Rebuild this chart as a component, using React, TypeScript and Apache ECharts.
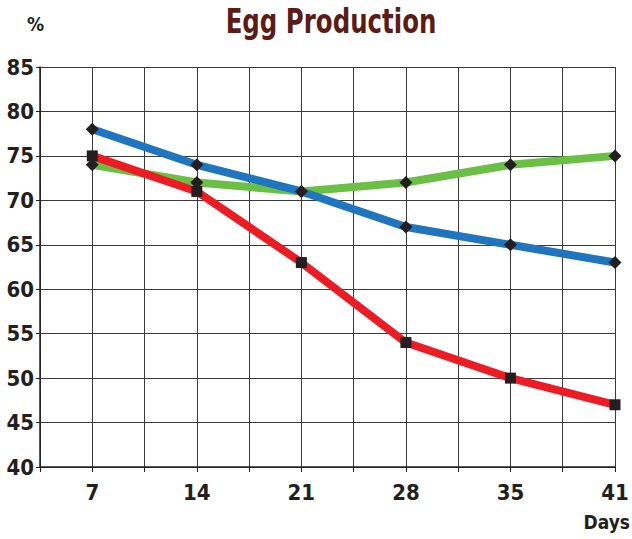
import React, { useEffect, useRef } from "react";
import * as echarts from "echarts";

// Days of the trial; the axis has a half-step slot between each day
const days = ["7", "14", "21", "28", "35", "41"];
const blueValues = [78, 74, 71, 67, 65, 63];
const greenValues = [74, 72, 71, 72, 74, 75];
const redValues = [75, 71, 63, 54, 50, 47];
const yTicks = [40, 45, 50, 55, 60, 65, 70, 75, 80, 85];

const FONT = "'DejaVu Sans Condensed', 'Liberation Sans Narrow', sans-serif";
const INK = "#231f20";

// slot 0 is blank, then blank slots between consecutive days
const slots: string[] = [""];
days.forEach((d, i) => {
  if (i > 0) slots.push("");
  slots.push(d);
});

const toPoints = (vals: number[]) => vals.map((v, i) => [2 * i + 1, v]);

export default function App() {
  const ref = useRef<HTMLDivElement>(null);

  useEffect(() => {
    if (!ref.current) return;
    const chart = echarts.init(ref.current, undefined, { renderer: "svg" });
    const line = (name: string, color: string, vals: number[], symbol: string, size: number, z: number) => ({
      name,
      type: "line",
      data: toPoints(vals),
      z,
      lineStyle: { color, width: 8, cap: "butt", join: "round" },
      itemStyle: { color: INK },
      symbol,
      symbolSize: size,
      showSymbol: true,
    });
    chart.setOption({
      animation: false,
      backgroundColor: "#ffffff",
      textStyle: { fontFamily: FONT },
      grid: { left: 40, right: 17, top: 67, bottom: 72, containLabel: false },
      xAxis: {
        type: "category",
        data: slots,
        boundaryGap: false,
        axisLine: { show: true, lineStyle: { color: INK, width: 1.5 } },
        axisTick: { show: true, interval: 0, length: 5, lineStyle: { color: INK } },
        axisLabel: {
          interval: 0,
          margin: 14,
          color: INK,
          fontFamily: FONT,
          fontWeight: "bold",
          fontSize: 22,
        },
        splitLine: { show: true, interval: 0, lineStyle: { color: "#3a3a3a", width: 1 } },
      },
      yAxis: {
        type: "value",
        min: yTicks[0],
        max: yTicks[yTicks.length - 1],
        interval: 5,
        axisLine: { show: true, lineStyle: { color: INK, width: 1.5 } },
        axisTick: { show: true, length: 4, lineStyle: { color: INK } },
        axisLabel: {
          margin: 6,
          color: INK,
          fontFamily: FONT,
          fontWeight: "bold",
          fontSize: 22,
        },
        splitLine: { show: true, lineStyle: { color: "#3a3a3a", width: 1 } },
      },
      graphic: [
        {
          type: "text",
          x: 331,
          y: 4,
          scaleX: 0.8,
          originX: 0,
          style: {
            text: "Egg Production",
            fill: "#5b1c16",
            font: `bold 34px ${FONT}`,
            textAlign: "center",
            textVerticalAlign: "top",
          },
        },
        {
          type: "text",
          left: 27,
          top: 14,
          style: { text: "%", fill: INK, font: `bold 19px ${FONT}` },
        },
        {
          type: "text",
          right: 2,
          top: 512,
          style: { text: "Days", fill: INK, font: `bold 19px ${FONT}` },
        },
      ],
      series: [
        line("Green", "#6abf45", greenValues, "diamond", 13, 2),
        line("Red", "#ed1c24", redValues, "rect", 11, 3),
        line("Blue", "#1f75be", blueValues, "diamond", 13, 4),
      ],
    });
    return () => chart.dispose();
  }, []);

  return <div ref={ref} style={{ width: 632, height: 539, position: "absolute", left: 0, top: 0 }} />;
}
